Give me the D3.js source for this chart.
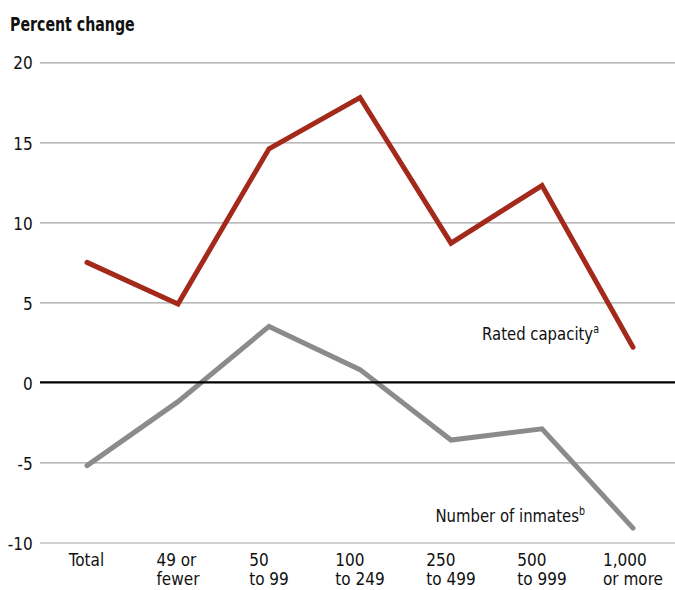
<!DOCTYPE html>
<html>
<head>
<meta charset="utf-8">
<script src="https://cdn.jsdelivr.net/npm/d3@7"></script>
<style>
  html, body { margin: 0; padding: 0; background: #fff; }
  svg { display: block; }
  text { font-family: "Liberation Sans Narrow", "DejaVu Sans Condensed", "Arial Narrow", sans-serif; fill: #111; }
</style>
</head>
<body>
<svg id="chart" width="675" height="590"></svg>
<script>
const categories = ["Total", "49 or fewer", "50 to 99", "100 to 249", "250 to 499", "500 to 999", "1,000 or more"];
const categoryLines = [["Total"], ["49 or", "fewer"], ["50", "to 99"], ["100", "to 249"], ["250", "to 499"], ["500", "to 999"], ["1,000", "or more"]];
const ratedCapacity = [7.5, 4.9, 14.6, 17.8, 8.7, 12.3, 2.2];
const numberOfInmates = [-5.2, -1.2, 3.5, 0.8, -3.6, -2.9, -9.1];
const yTicks = [20, 15, 10, 5, 0, -5, -10];
const yTickLabels = ["20", "15", "10", "5", "0", "-5", "-10"];

const svg = d3.select("#chart");
const W = 675;
const SX = 0.92;   // horizontal squeeze to mimic condensed face

const x = d3.scalePoint().domain(categories).range([87, 633]);
const y = d3.scaleLinear().domain([-10, 20]).range([542.5, 62.3]);

// title
svg.append("text")
  .attr("transform", "translate(10,31) scale(0.83,1)")
  .attr("font-size", 19).attr("font-weight", "bold")
  .text("Percent change");

// gridlines + y tick labels
const yAxis = d3.axisLeft(y).tickValues(yTicks).tickSize(0).tickFormat((d, i) => yTickLabels[i]);
const gAxis = svg.append("g").attr("transform", "translate(40,0)").call(yAxis);
gAxis.select(".domain").remove();
gAxis.selectAll(".tick text")
  .attr("x", -8).attr("dy", "0.36em")
  .attr("transform", `scale(${SX},1)`)
  .attr("font-size", 18.5).attr("font-family", null)
  .style("fill", "#111");
gAxis.selectAll(".tick").filter(d => d !== 0).append("line")
  .attr("x1", 0).attr("x2", W - 40)
  .attr("stroke", "#a3a3a6").attr("stroke-width", 1.2);

// x labels
const xl = svg.append("g");
categories.forEach((c, i) => {
  const t = xl.append("text").attr("font-size", 18.5);
  categoryLines[i].forEach((ln, j) => {
    t.append("tspan").attr("x", 0).attr("y", 0 + j * 19.5).text(ln);
  });
  const bb = t.node().getBBox();
  t.attr("transform", `translate(${x(c) - bb.width * SX / 2},566) scale(${SX},1)`);
});

// lines
const line = d3.line().x((d, i) => x(categories[i])).y(d => y(d));
svg.append("path").datum(numberOfInmates)
  .attr("d", line).attr("fill", "none")
  .attr("stroke", "#8b8b8e").attr("stroke-width", 5)
  .attr("stroke-linecap", "round").attr("stroke-linejoin", "miter");
svg.append("path").datum(ratedCapacity)
  .attr("d", line).attr("fill", "none")
  .attr("stroke", "#a32a1b").attr("stroke-width", 5)
  .attr("stroke-linecap", "round").attr("stroke-linejoin", "miter");

// zero line
svg.append("line")
  .attr("x1", 40).attr("x2", W)
  .attr("y1", y(0)).attr("y2", y(0))
  .attr("stroke", "#000").attr("stroke-width", 2.2);

// annotations
function annotate(xEnd, yVal, label, sup) {
  const t = svg.append("text")
    .attr("transform", `translate(${xEnd},${y(yVal)}) scale(${SX},1)`)
    .attr("text-anchor", "end").attr("font-size", 18);
  t.append("tspan").text(label);
  t.append("tspan").attr("font-size", 11.5).attr("dy", -7).text(sup);
}
annotate(599, 2.65, "Rated capacity", "a");
annotate(585, -8.72, "Number of inmates", "b");
</script>
</body>
</html>
